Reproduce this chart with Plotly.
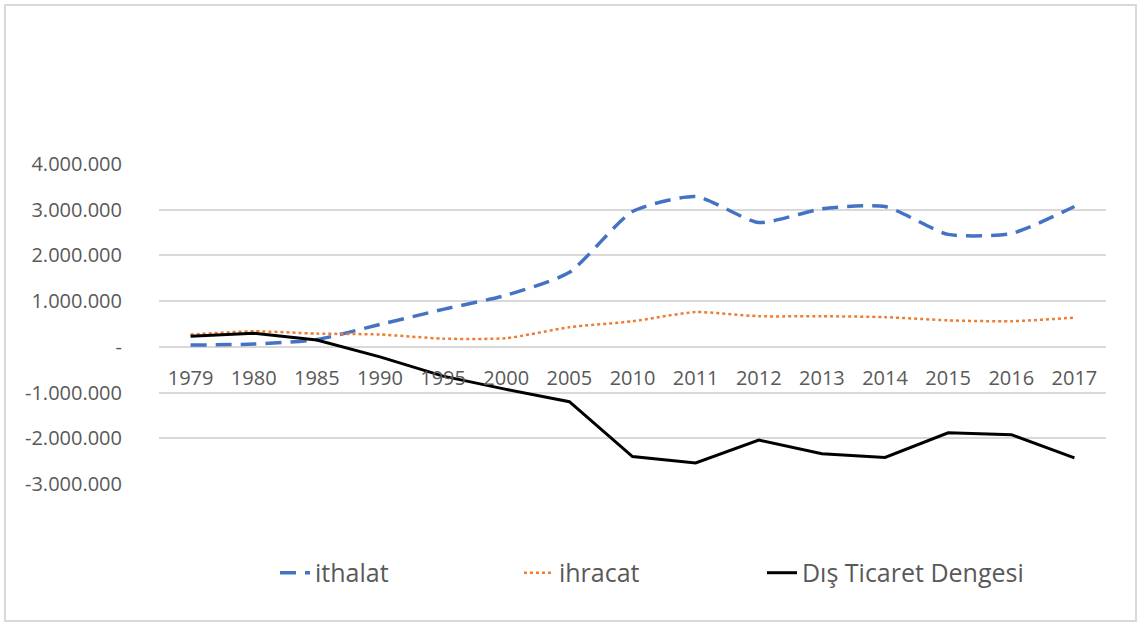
import plotly.graph_objects as go

years = ["1979", "1980", "1985", "1990", "1995", "2000", "2005", "2010",
         "2011", "2012", "2013", "2014", "2015", "2016", "2017"]

ithalat = [40000, 60000, 160000, 490000, 820000, 1130000, 1630000, 2960000,
           3290000, 2720000, 3020000, 3070000, 2460000, 2480000, 3070000]
ihracat = [270000, 340000, 290000, 270000, 180000, 190000, 430000, 560000,
           760000, 670000, 670000, 650000, 580000, 560000, 640000]
denge = [230000, 300000, 150000, -220000, -640000, -930000, -1200000, -2400000,
         -2540000, -2040000, -2340000, -2420000, -1880000, -1920000, -2430000]

y_ticks = [4000000, 3000000, 2000000, 1000000, 0, -1000000, -2000000, -3000000]
y_labels = ["4.000.000", "3.000.000", "2.000.000", "1.000.000", "-",
            "-1.000.000", "-2.000.000", "-3.000.000"]

grey = "#595959"
grid = "#d9d9d9"

fig = go.Figure()
fig.add_trace(go.Scatter(x=years, y=ithalat, name="ithalat", mode="lines", legend="legend",
                         line=dict(color="#4472C4", width=3.5, dash="16px,9px", shape="spline", smoothing=0.6)))
fig.add_trace(go.Scatter(x=years, y=ihracat, name="ihracat", mode="lines", legend="legend2",
                         line=dict(color="#ED7D31", width=2.5, dash="dot", shape="spline", smoothing=0.6)))
fig.add_trace(go.Scatter(x=years, y=denge, name="Dış Ticaret Dengesi", mode="lines", legend="legend3",
                         line=dict(color="black", width=3)))

# outer chart border
fig.add_shape(type="rect", xref="paper", yref="paper",
              x0=-0.1626, x1=1.0317, y0=-0.428, y1=1.497,
              line=dict(color=grid, width=2), layer="below")

leg = dict(orientation="h", y=-0.278, yanchor="middle", xanchor="left",
           font=dict(size=25, color=grey), bgcolor="rgba(0,0,0,0)")

fig.update_layout(
    width=1138, height=625,
    margin=dict(l=159, r=32, t=164, b=141),
    paper_bgcolor="white", plot_bgcolor="white",
    font=dict(family="Open Sans", color=grey, size=20),
    showlegend=True,
    legend=dict(leg, x=0.1225),
    legend2=dict(leg, x=0.3801),
    legend3=dict(leg, x=0.6367),
    xaxis=dict(type="category", range=[-0.5, 14.5], anchor="free", position=3 / 7,
               showgrid=False, showline=False, ticks="", ticklabelstandoff=17,
               tickfont=dict(size=20, color=grey)),
    yaxis=dict(range=[-3000000, 4000000], tickvals=y_ticks, ticktext=y_labels,
               showgrid=True, gridcolor=grid, gridwidth=1.5, zeroline=False,
               ticklabelstandoff=36, tickfont=dict(size=20, color=grey)),
)

fig.write_html("out.html", config={"displayModeBar": False},
               post_script="document.body.style.margin='0';")
